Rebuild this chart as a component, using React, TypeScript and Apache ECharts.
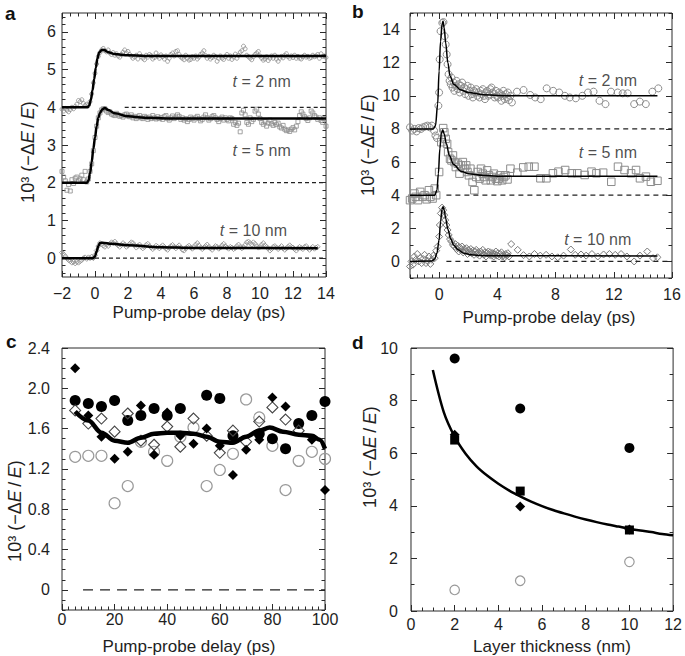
import { useEffect, useRef } from 'react';
import * as echarts from 'echarts';

const FONT = 'Liberation Sans, Arial, Helvetica, sans-serif';
const INK = '#1e1e1e';
const FRAME = '#2a2a2a';

// ---------------- Panel a (uniform sampling from -2 ps, step 0.1 ps) ----------------
const A_T0 = -2;
const A_DT = 0.1;
const A_2NM = [
  3.95, 3.9, 3.97, 3.92, 3.88, 3.94, 4.0, 3.96, 4.02, 4.08, 4.18, 4.15, 4.2, 4.1, 4.05, 4.08,
  4.05, 4.15, 4.35, 4.65, 4.9, 5.15, 5.35, 5.45, 5.52, 5.56,
  5.5, 5.47, 5.52, 5.44, 5.4, 5.45, 5.38, 5.42, 5.36, 5.33, 5.4, 5.46, 5.52, 5.44, 5.48,
  5.4, 5.36, 5.3, 5.34, 5.38, 5.28, 5.42, 5.35, 5.3, 5.26, 5.38, 5.33, 5.4, 5.37, 5.28, 5.32, 5.44, 5.35, 5.3, 5.39,
  5.34, 5.28, 5.36, 5.22, 5.3, 5.4, 5.44, 5.36, 5.48, 5.5, 5.4, 5.33, 5.3, 5.26, 5.38, 5.3, 5.25, 5.27, 5.34, 5.3,
  5.36, 5.28, 5.33, 5.4, 5.44, 5.5, 5.37, 5.3, 5.35, 5.28, 5.32, 5.38, 5.34, 5.22, 5.3, 5.36, 5.3, 5.27, 5.34, 5.4,
  5.3, 5.36, 5.27, 5.33, 5.41, 5.3, 5.38, 5.46, 5.5, 5.62, 5.55, 5.38, 5.34, 5.3, 5.26, 5.34, 5.4, 5.44, 5.48, 5.36,
  5.3, 5.25, 5.28, 5.34, 5.24, 5.3, 5.36, 5.3, 5.38, 5.28, 5.22, 5.3, 5.35, 5.31, 5.38, 5.42, 5.34, 5.3, 5.36, 5.32,
  5.38, 5.3, 5.35, 5.3, 5.28, 5.34, 5.38, 5.33, 5.35, 5.3, 5.32, 5.38, 5.34, 5.36, 5.4, 5.3, 5.42, 5.35, 5.36, 5.32,
];
const A_5NM = [
  2.3, 2.15, 2.05, 1.8, 1.95, 1.78, 2.08, 1.98, 2.12, 2.15, 2.05, 2.1, 2.2, 2.08, 2.3, 2.02,
  2.1, 2.3, 2.5, 2.85, 3.2, 3.5, 3.72, 3.85, 3.93, 3.96,
  3.96, 3.9, 3.86, 3.88, 3.82, 3.8, 3.78, 3.84, 3.8, 3.76, 3.78, 3.74, 3.8, 3.82, 3.77,
  3.75, 3.8, 3.72, 3.76, 3.7, 3.74, 3.78, 3.72, 3.7, 3.76, 3.73, 3.68, 3.74, 3.7, 3.78, 3.72, 3.69, 3.75, 3.7, 3.73,
  3.68, 3.75, 3.78, 3.7, 3.66, 3.72, 3.77, 3.7, 3.74, 3.8, 3.76, 3.68, 3.72, 3.66, 3.7, 3.62, 3.68, 3.74, 3.7, 3.66,
  3.72, 3.76, 3.7, 3.64, 3.68, 3.74, 3.8, 3.72, 3.66, 3.7, 3.75, 3.78, 3.72, 3.68, 3.62, 3.7, 3.74, 3.66, 3.72, 3.68,
  3.64, 3.72, 3.7, 3.55, 3.6, 3.52, 3.58, 3.35, 3.85, 3.92, 3.8, 3.6, 3.55, 3.72, 3.62, 3.68, 3.9, 3.95, 3.82, 3.7,
  3.6, 3.55, 3.62, 3.5, 3.58, 3.66, 3.56, 3.52, 3.6, 3.54, 3.58, 3.48, 3.45, 3.52, 3.42, 3.38, 3.4, 3.36, 3.42, 3.46,
  3.4, 3.5, 3.62, 3.78, 3.88, 3.82, 3.75, 3.7, 3.65, 3.72, 3.9, 3.85, 3.78, 3.74, 3.68, 3.72, 3.65, 3.6, 3.7, 3.5,
];
const A_10NM = [
  0.15, 0.1, 0.05, 0.0, -0.05, -0.08, -0.12, -0.1, -0.14, -0.1, -0.12, -0.08, -0.05, 0.0, 0.02, -0.02,
  0.02, 0.0, 0.04, 0.0, 0.08, 0.2, 0.32, 0.4, 0.38, 0.33,
  0.3, 0.36, 0.32, 0.38, 0.42, 0.4, 0.44, 0.38, 0.34, 0.3, 0.35, 0.4, 0.36, 0.3, 0.33,
  0.38, 0.42, 0.4, 0.34, 0.28, 0.32, 0.36, 0.3, 0.26, 0.3, 0.35, 0.38, 0.32, 0.28, 0.24, 0.28, 0.33, 0.3, 0.26, 0.3,
  0.34, 0.3, 0.25, 0.22, 0.28, 0.32, 0.35, 0.3, 0.26, 0.3, 0.34, 0.28, 0.22, 0.2, 0.26, 0.3, 0.33, 0.28, 0.25, 0.3,
  0.36, 0.4, 0.34, 0.28, 0.24, 0.28, 0.32, 0.36, 0.3, 0.26, 0.22, 0.28, 0.32, 0.3, 0.25, 0.28, 0.34, 0.38, 0.32, 0.28,
  0.25, 0.3, 0.28, 0.24, 0.27, 0.32, 0.36, 0.3, 0.26, 0.3, 0.35, 0.42, 0.44, 0.4, 0.36, 0.42, 0.38, 0.32, 0.28, 0.3,
  0.36, 0.4, 0.34, 0.3, 0.26, 0.2, 0.24, 0.3, 0.32, 0.28, 0.24, 0.28, 0.32, 0.26, 0.22, 0.26, 0.3, 0.34, 0.3, 0.28,
  0.24, 0.2, 0.26, 0.3, 0.27, 0.24, 0.3, 0.32, 0.26, 0.22, 0.26, 0.3, 0.25, 0.28, 0.3,
];
const A_FIT_2NM = [
  [-2, 4], [-0.45, 4], [-0.35, 4.05], [-0.25, 4.2], [-0.15, 4.45], [-0.05, 4.75], [0.05, 5.05], [0.15, 5.3],
  [0.25, 5.45], [0.4, 5.52], [0.55, 5.52], [0.8, 5.46], [1.2, 5.41], [2, 5.38], [3, 5.36], [14, 5.36],
];
const A_FIT_5NM = [
  [-2, 2], [-0.5, 2], [-0.4, 2.05], [-0.3, 2.25], [-0.2, 2.55], [-0.1, 2.9], [0, 3.2], [0.1, 3.5], [0.2, 3.72],
  [0.3, 3.85], [0.45, 3.95], [0.6, 3.98], [0.8, 3.93], [1.2, 3.84], [2, 3.76], [3, 3.72], [5, 3.7], [14, 3.7],
];
const A_FIT_10NM = [
  [-2, 0], [-0.1, 0], [0, 0.05], [0.1, 0.18], [0.2, 0.32], [0.3, 0.4], [0.45, 0.41], [1, 0.38], [2, 0.34],
  [4, 0.29], [6, 0.27], [13.5, 0.26],
];
const A_BASELINES = [[0, 14, 0], [0, 14, 2], [1.8, 14, 4]];
const A_LABELS: [number, number, string][] = [[10.1, 4.68, '2 nm'], [10.1, 2.85, '5 nm'], [9.6, 0.72, '10 nm']];
const A_XTICKS = [-2, 0, 2, 4, 6, 8, 10, 12, 14];
const A_YTICKS = [0, 1, 2, 3, 4, 5, 6];

// ---------------- Panel b ----------------
const B_2NM = [
  [-2, 8.1], [-1.85, 7.9], [-1.7, 8.0], [-1.55, 7.85], [-1.4, 8.05], [-1.25, 8.0], [-1.1, 8.1], [-0.95, 8.15],
  [-0.8, 8.2], [-0.65, 8.1], [-0.5, 8.2], [-0.35, 7.9], [-0.25, 7.6], [-0.15, 7.45], [-0.05, 9.4], [0, 10.2],
  [0.04, 12.2], [0.1, 13.9], [0.22, 14.4], [0.3, 14.45], [0.38, 13.6], [0.45, 13.1], [0.52, 12.5], [0.58, 11.9],
  [0.65, 11.3], [0.72, 10.9],
  [0.8, 10.7], [0.85, 11.1], [0.92, 10.5], [1.0, 10.8], [1.05, 10.3], [1.12, 10.6], [1.2, 10.9], [1.28, 10.4],
  [1.35, 10.7], [1.42, 10.2], [1.5, 10.6], [1.58, 10.8], [1.65, 10.3], [1.72, 10.5], [1.8, 10.1], [1.88, 10.4],
  [1.95, 10.6], [2.02, 10.0], [2.1, 10.3], [2.18, 10.5], [2.25, 10.1], [2.32, 9.9], [2.4, 10.3], [2.48, 10.2],
  [2.55, 10.4], [2.62, 10.0], [2.7, 10.2], [2.78, 9.9], [2.85, 10.3], [2.92, 10.1], [3.0, 10.4], [3.08, 10.0],
  [3.15, 9.8], [3.22, 10.2], [3.3, 10.3], [3.38, 10.0], [3.45, 10.1], [3.52, 10.4], [3.6, 10.5], [3.68, 10.2],
  [3.75, 10.1], [3.82, 9.9], [3.9, 10.3], [3.98, 10.0], [4.05, 9.9], [4.12, 10.2], [4.2, 10.1], [4.28, 9.7],
  [4.35, 10.0], [4.42, 10.3], [4.5, 9.8], [4.58, 10.1], [4.65, 9.9], [4.72, 10.2], [4.8, 9.75], [4.9, 10.0], [5.0, 9.6],
  [5.35, 10.25], [5.8, 10.35], [6.26, 10.05], [6.6, 9.9], [6.98, 9.8], [7.39, 10.45], [7.84, 10.3], [8.25, 10.2],
  [8.64, 10.0], [8.98, 9.9], [9.39, 9.85], [9.84, 10.0], [10.23, 10.2], [10.61, 10.25], [11.02, 9.7], [11.43, 9.5],
  [11.81, 10.25], [12.27, 10.2], [12.61, 10.15], [12.95, 10.15], [13.4, 9.5], [13.79, 9.65], [14.2, 9.5],
  [14.65, 10.25], [15.06, 10.45],
];
const B_5NM = [
  [-2, 3.7], [-1.85, 3.8], [-1.7, 4.1], [-1.6, 3.9], [-1.45, 3.7], [-1.3, 4.2], [-1.15, 3.9], [-1.0, 4.0],
  [-0.85, 3.75], [-0.7, 4.3], [-0.6, 3.9], [-0.45, 3.8], [-0.3, 4.4], [-0.2, 4.0],
  [0, 5.4], [0.15, 7.2], [0.28, 8.05], [0.36, 7.8], [0.45, 7.4], [0.55, 7.1], [0.62, 6.6], [0.75, 6.2],
  [0.85, 6.1], [0.95, 6.4], [1.06, 6.0], [1.15, 5.7], [1.29, 5.9], [1.4, 5.3], [1.5, 5.8], [1.63, 6.0],
  [1.75, 5.6], [1.86, 5.8], [1.95, 5.4], [2.05, 5.2], [2.15, 5.6], [2.3, 4.8], [2.42, 4.3], [2.55, 5.1],
  [2.65, 5.4], [2.78, 5.0], [2.88, 5.6], [3.0, 5.3], [3.1, 5.1], [3.2, 4.9], [3.3, 5.5], [3.42, 5.2],
  [3.55, 4.9], [3.65, 5.1], [3.76, 5.3], [3.9, 5.0], [4.0, 4.85], [4.1, 5.0], [4.2, 5.2], [4.33, 4.9],
  [4.45, 5.1], [4.56, 5.2], [4.7, 4.95], [4.9, 5.6],
  [5.37, 5.36], [5.78, 5.68], [6.16, 5.72], [6.55, 5.72], [6.96, 5.02], [7.37, 5.02], [7.82, 5.32], [8.2, 5.42],
  [8.66, 5.52], [9.11, 5.32], [9.5, 5.32], [10.0, 5.22], [10.47, 5.42], [10.81, 5.32], [11.27, 5.36],
  [11.83, 4.81], [12.29, 5.72], [12.74, 5.52], [13.19, 5.32], [13.53, 5.52], [13.8, 5.02], [14.21, 5.12],
  [14.55, 4.81], [15.0, 4.87],
];
const B_10NM = [
  [-2, -0.3], [-1.9, 0.0], [-1.8, -0.2], [-1.7, 0.3], [-1.6, 0.1], [-1.5, 0.45], [-1.4, 0.0], [-1.3, 0.2],
  [-1.2, -0.1], [-1.1, 0.15], [-1.0, 0.4], [-0.9, -0.1], [-0.8, 0.05], [-0.7, 0.3], [-0.6, -0.15], [-0.5, 0.1],
  [-0.4, 0.35], [-0.3, 0.2], [-0.2, 0.65], [-0.1, 0.9],
  [0, 1.5], [0.05, 2.2], [0.12, 2.9], [0.2, 3.25], [0.28, 3.1], [0.35, 2.8], [0.42, 2.5], [0.5, 2.2],
  [0.58, 1.9], [0.66, 1.6], [0.75, 1.35], [0.85, 1.2], [0.95, 1.0],
  [1.05, 0.9], [1.12, 1.05], [1.2, 0.75], [1.28, 0.95], [1.35, 0.6], [1.42, 0.85], [1.5, 0.7], [1.58, 0.9],
  [1.65, 0.55], [1.72, 0.75], [1.8, 0.6], [1.88, 0.8], [1.95, 0.45], [2.02, 0.7], [2.1, 0.55], [2.18, 0.75],
  [2.25, 0.5], [2.32, 0.65], [2.4, 0.4], [2.48, 0.6], [2.55, 0.7], [2.62, 0.45], [2.7, 0.55], [2.78, 0.35],
  [2.85, 0.6], [2.92, 0.5], [3.0, 0.7], [3.08, 0.4], [3.15, 0.55], [3.22, 0.3], [3.3, 0.5], [3.38, 0.6],
  [3.45, 0.4], [3.52, 0.55], [3.6, 0.35], [3.68, 0.5], [3.75, 0.3], [3.82, 0.45], [3.9, 0.6], [3.98, 0.35],
  [4.05, 0.5], [4.12, 0.3], [4.2, 0.45], [4.28, 0.55], [4.35, 0.3], [4.42, 0.4], [4.5, 0.25], [4.58, 0.45],
  [4.65, 0.35], [4.72, 0.5], [4.8, 0.3], [4.95, 1.05],
  [5.4, 0.7], [5.8, 0.38], [6.2, 0.3], [6.55, 0.45], [6.95, 0.35], [7.35, 0.4], [7.75, 0.3], [8.15, 0.25],
  [8.55, 0.35], [9.05, 0.72], [9.35, 0.4], [9.75, 0.42], [10.1, 0.35], [10.5, 0.45], [10.9, 0.3], [11.3, 0.42],
  [11.7, 0.45], [12.1, 0.4], [12.5, 0.45], [12.9, 0.3], [13.4, 0.0], [13.8, 0.35], [14.3, 0.6], [14.7, 0.2], [15.0, 0.25],
];
const B_FIT_2NM = [
  [-2, 8], [-0.4, 8], [-0.25, 8.2], [-0.1, 9.5], [0, 11.5], [0.1, 13.3], [0.2, 14.3], [0.27, 14.5], [0.35, 14.1],
  [0.45, 13.2], [0.6, 12.0], [0.75, 11.2], [1.0, 10.7], [1.5, 10.35], [2, 10.2], [3, 10.07], [4, 10.02], [5, 10], [15, 10],
];
const B_FIT_5NM = [
  [-2, 4], [-0.3, 4], [-0.15, 4.3], [-0.05, 5.3], [0.05, 6.8], [0.15, 7.7], [0.25, 7.95], [0.35, 7.7], [0.5, 7.1],
  [0.7, 6.4], [1.0, 5.85], [1.5, 5.45], [2, 5.3], [3, 5.2], [4, 5.15], [15, 5.15],
];
const B_FIT_10NM = [
  [-2, 0], [-0.5, 0.02], [-0.3, 0.15], [-0.15, 0.5], [0, 1.3], [0.1, 2.4], [0.2, 3.15], [0.27, 3.3], [0.35, 3.1],
  [0.45, 2.6], [0.6, 1.95], [0.8, 1.35], [1.0, 1.0], [1.3, 0.7], [1.7, 0.5], [2.2, 0.4], [3, 0.35], [15, 0.33],
];
const B_BASELINES = [[0.5, 16, 0], [0.5, 16, 4], [0.9, 16, 8]];
const B_LABELS: [number, number, string][] = [[11.6, 10.95, '2 nm'], [11.6, 6.58, '5 nm'], [10.9, 1.35, '10 nm']];
const B_XTICKS = [0, 4, 8, 12, 16];
const B_YTICKS = [0, 2, 4, 6, 8, 10, 12, 14];

// ---------------- Panel c ----------------
const C_DELAY = [5, 10, 15, 20, 25, 30, 35, 40, 45, 50, 55, 60, 65, 70, 75, 80, 85, 90, 95, 100];
const C_FILLED_CIRCLE = [1.88, 1.85, 1.82, 1.88, 1.68, 1.73, 1.8, 1.73, 1.8, null, 1.93, 1.9, 1.53, null, 1.55, 1.5, 1.4, 1.65, 1.73, 1.87];
const C_OPEN_CIRCLE = [1.32, 1.33, 1.33, 0.86, 1.03, 1.47, 1.37, 1.28, 1.52, 1.61, 1.03, 1.19, 1.35, 1.89, 1.71, 1.43, 0.99, 1.28, 1.37, 1.3];
const C_FILLED_DIAMOND = [2.2, 1.73, 1.52, 1.3, 1.37, 1.83, 1.34, 1.76, 1.53, 1.45, 1.6, 1.43, 1.14, 1.39, 1.49, 1.91, 1.82, null, 1.49, 0.99];
const C_OPEN_DIAMOND = [1.78, 1.65, 1.7, 1.57, 1.75, 1.48, 1.44, 1.62, 1.42, 1.7, 1.53, 1.36, 1.58, 1.47, 1.67, 1.81, 1.69, 1.58, null, null];
const C_FIT = [
  [5, 1.77], [10, 1.68], [15, 1.56], [20, 1.48], [25, 1.46], [30, 1.51], [35, 1.55], [40, 1.56], [45, 1.56],
  [50, 1.55], [55, 1.52], [60, 1.47], [65, 1.46], [70, 1.52], [75, 1.58], [79, 1.61], [84, 1.57], [90, 1.54],
  [95, 1.53], [98, 1.49], [100, 1.4],
];
const C_BASELINE = [[8, 100, 0]];
const C_XTICKS = [0, 20, 40, 60, 80, 100];
const C_YTICKS = [0, 0.4, 0.8, 1.2, 1.6, 2.0, 2.4];

// ---------------- Panel d ----------------
const D_THICKNESS = [2, 5, 10];
const D_FILLED_CIRCLE = [9.6, 7.7, 6.2];
const D_OPEN_CIRCLE = [0.8, 1.15, 1.87];
const D_SQUARE = [6.5, 4.56, 3.08];
const D_DIAMOND = [6.7, 3.97, 3.1];
const D_FIT = [
  [1, 9.16], [1.5, 7.56], [2, 6.62], [2.5, 5.98], [3, 5.5], [3.5, 5.14], [4, 4.84], [4.5, 4.58], [5, 4.36],
  [5.5, 4.16], [6, 3.99], [6.5, 3.84], [7, 3.71], [7.5, 3.59], [8, 3.48], [8.5, 3.38], [9, 3.29], [9.5, 3.21],
  [10, 3.13], [10.5, 3.06], [11, 3.0], [11.5, 2.93], [12, 2.88],
];
const D_XTICKS = [0, 2, 4, 6, 8, 10, 12];
const D_YTICKS = [0, 2, 4, 6, 8, 10];

// ---------------- helpers ----------------
function steps(from: number, to: number, step: number) {
  const out: number[] = [];
  const n = Math.round((to - from) / step);
  for (let i = 0; i <= n; i++) out.push(Math.round((from + i * step) * 10000) / 10000);
  return out;
}
const minus = (v: number) => String(v).replace('-', '\u2212');

type PanelCfg = {
  grid: { left: number; top: number; width: number; height: number };
  x: [number, number]; xMajor: number[]; xMinor: number[];
  y: [number, number]; yMajor: number[]; yMinor: number[];
  mirrorTop: boolean; xMargin: number; yMargin: number;
  yFmt?: (v: number) => string;
};

const PANELS: PanelCfg[] = [
  { grid: { left: 62, top: 13, width: 264, height: 264 }, x: [-2, 14], xMajor: A_XTICKS, xMinor: steps(-2, 14, 0.5),
    y: [-0.5, 6.5], yMajor: A_YTICKS, yMinor: steps(-0.4, 6.4, 0.2), mirrorTop: true, xMargin: 8, yMargin: 6 },
  { grid: { left: 410, top: 13, width: 262, height: 265 }, x: [-2, 16], xMajor: B_XTICKS, xMinor: steps(-2, 16, 0.5),
    y: [-1, 15], yMajor: B_YTICKS, yMinor: steps(-1, 15, 1), mirrorTop: true, xMargin: 8, yMargin: 10 },
  { grid: { left: 62, top: 348, width: 263, height: 262 }, x: [0, 100], xMajor: C_XTICKS, xMinor: steps(0, 100, 2.5),
    y: [-0.2, 2.4], yMajor: C_YTICKS, yMinor: steps(-0.2, 2.4, 0.1), mirrorTop: false, xMargin: 1, yMargin: 12,
    yFmt: (v: number) => (v === 0 ? '0' : v.toFixed(1)) },
  { grid: { left: 411, top: 348, width: 263, height: 263 }, x: [0, 12], xMajor: D_XTICKS, xMinor: steps(0, 12, 0.5),
    y: [0, 10], yMajor: D_YTICKS, yMinor: steps(0, 10, 1), mirrorTop: false, xMargin: 5, yMargin: 13 },
];

const labelStyle = { fontSize: 16, color: INK, fontFamily: FONT };

function tickAxis(base: any, vals: number[], len: number, label: any) {
  return {
    ...base,
    type: 'value',
    axisLine: { show: false, onZero: false },
    splitLine: { show: false },
    minorTick: { show: false },
    axisTick: { show: true, inside: true, length: len, customValues: vals, lineStyle: { color: FRAME, width: 1 } },
    axisLabel: label ? { ...label, customValues: vals } : { show: false },
  };
}

function buildAxes() {
  const xAxis: any[] = [];
  const yAxis: any[] = [];
  const idx: { x: number; y: number }[] = [];
  PANELS.forEach((p, gi) => {
    const xb = { gridIndex: gi, min: p.x[0], max: p.x[1] };
    const yb = { gridIndex: gi, min: p.y[0], max: p.y[1] };
    idx.push({ x: xAxis.length, y: yAxis.length });
    xAxis.push(tickAxis({ ...xb, position: 'bottom' }, p.xMajor, 6,
      { show: true, margin: p.xMargin, formatter: (v: number) => minus(v), ...labelStyle }));
    xAxis.push(tickAxis({ ...xb, position: 'bottom' }, p.xMinor, 3.5, null));
    if (p.mirrorTop) {
      xAxis.push(tickAxis({ ...xb, position: 'top' }, p.xMajor, 6, null));
      xAxis.push(tickAxis({ ...xb, position: 'top' }, p.xMinor, 3.5, null));
    }
    yAxis.push(tickAxis({ ...yb, position: 'left' }, p.yMajor, 6,
      { show: true, margin: p.yMargin, formatter: p.yFmt || ((v: number) => minus(v)), ...labelStyle }));
    yAxis.push(tickAxis({ ...yb, position: 'left' }, p.yMinor, 3.5, null));
    yAxis.push(tickAxis({ ...yb, position: 'right' }, p.yMajor, 6, null));
    yAxis.push(tickAxis({ ...yb, position: 'right' }, p.yMinor, 3.5, null));
  });
  return { xAxis, yAxis, idx };
}

const pairs = (xs: number[], ys: (number | null)[]) =>
  xs.map((x, i) => [x, ys[i]]).filter((d) => d[1] !== null && d[1] !== undefined);
const sampled = (t0: number, dt: number, ys: number[]) => ys.map((y, i) => [Math.round((t0 + i * dt) * 100) / 100, y]);

export default function App() {
  const ref = useRef<HTMLDivElement>(null);
  useEffect(() => {
    if (!ref.current) return;
    const chart = echarts.init(ref.current, undefined, { renderer: 'svg' });
    const { xAxis, yAxis, idx } = buildAxes();
    const on = (p: number) => ({ xAxisIndex: idx[p].x, yAxisIndex: idx[p].y });

    const hollow = (p: number, data: any[], symbol: string, size: number, stroke: string, bw: number) => ({
      type: 'scatter', ...on(p), data, symbol, symbolSize: size, silent: true, z: 2,
      itemStyle: { color: 'rgba(255,255,255,0)', borderColor: stroke, borderWidth: bw, opacity: 1 },
    });
    const filled = (p: number, data: any[], symbol: string, size: number) => ({
      type: 'scatter', ...on(p), data, symbol, symbolSize: size, silent: true, z: 2,
      itemStyle: { color: '#000', borderColor: '#000', borderWidth: 0, opacity: 1 },
    });
    const fit = (p: number, data: any[], width: number, smooth = 0.35, mono = true) => ({
      type: 'line', ...on(p), data, symbol: 'none', smooth, smoothMonotone: mono ? 'x' : undefined, silent: true, z: 4,
      lineStyle: { color: '#000', width },
    });
    const dashed = (p: number, lines: number[][], dash: number[], width: number) =>
      lines.map(([x0, x1, lv]) => ({
        type: 'line', ...on(p), data: [[x0, lv], [x1, lv]], symbol: 'none', silent: true, z: 3,
        lineStyle: { color: '#222', width, type: dash },
      }));
    const notes = (p: number, items: [number, number, string][]) => ({
      type: 'scatter', ...on(p), silent: true, z: 5, symbolSize: 1,
      itemStyle: { color: 'rgba(0,0,0,0)' },
      data: items.map(([x, y, t]) => ({ value: [x, y], name: t })),
      label: {
        show: true, position: 'inside', fontSize: 16, color: INK, fontFamily: FONT,
        formatter: (q: any) => '{i|t} = ' + q.name,
        rich: { i: { fontStyle: 'italic', fontSize: 16, color: INK, fontFamily: FONT } },
      },
    });

    const series: any[] = [
      // a
      hollow(0, sampled(A_T0, A_DT, A_2NM), 'circle', 4, '#8c8c8c', 0.8),
      hollow(0, sampled(A_T0, A_DT, A_5NM), 'rect', 4, '#8c8c8c', 0.8),
      hollow(0, sampled(A_T0, A_DT, A_10NM), 'diamond', 5, '#8c8c8c', 0.8),
      ...dashed(0, A_BASELINES, [4, 3], 1.2),
      fit(0, A_FIT_2NM, 2.5), fit(0, A_FIT_5NM, 2.5), fit(0, A_FIT_10NM, 2.5),
      notes(0, A_LABELS),
      // b
      hollow(1, B_2NM, 'circle', 7, '#8c8c8c', 1),
      hollow(1, B_5NM, 'rect', 7.5, '#8c8c8c', 1),
      hollow(1, B_10NM, 'diamond', 7, '#7a7a7a', 1),
      ...dashed(1, B_BASELINES, [5, 4], 1.2),
      fit(1, B_FIT_2NM, 1.5), fit(1, B_FIT_5NM, 1.5), fit(1, B_FIT_10NM, 1.5),
      notes(1, B_LABELS),
      // c
      hollow(2, pairs(C_DELAY, C_OPEN_CIRCLE), 'circle', 11, '#9a9a9a', 1.2),
      filled(2, pairs(C_DELAY, C_FILLED_CIRCLE), 'circle', 11),
      hollow(2, pairs(C_DELAY, C_OPEN_DIAMOND), 'diamond', 11, '#444', 1.1),
      filled(2, pairs(C_DELAY, C_FILLED_DIAMOND), 'diamond', 10),
      ...dashed(2, C_BASELINE, [10, 7], 1.1),
      fit(2, C_FIT, 4.5),
      // d
      filled(3, pairs(D_THICKNESS, D_FILLED_CIRCLE), 'circle', 10),
      hollow(3, pairs(D_THICKNESS, D_OPEN_CIRCLE), 'circle', 9.5, '#9a9a9a', 1.2),
      filled(3, pairs(D_THICKNESS, D_SQUARE), 'rect', 9),
      filled(3, pairs(D_THICKNESS, D_DIAMOND), 'diamond', 10),
      fit(3, D_FIT, 2.5, 0.3, false),
    ];

    const yTitle = {
      text: '10\u00B3 (\u2212\u0394{i|E}\u2009/\u2009{i|E})',
      fontSize: 18, fontFamily: FONT, fill: INK, align: 'center', verticalAlign: 'middle',
      rich: { i: { fontStyle: 'italic', fontSize: 18, fontFamily: FONT, fill: INK } },
    };
    const xTitle = (text: string) => ({ text, fontSize: 17, fontFamily: FONT, fill: INK, align: 'center', verticalAlign: 'middle' });
    const letter = (text: string) => ({ text, fontSize: 19, fontWeight: 'bold', fontFamily: FONT, fill: '#111', align: 'left', verticalAlign: 'middle' });

    const graphic = [
      { type: 'text', x: 5, y: 13, style: letter('a') },
      { type: 'text', x: 352, y: 11, style: letter('b') },
      { type: 'text', x: 6, y: 341, style: letter('c') },
      { type: 'text', x: 352, y: 342, style: letter('d') },
      { type: 'text', x: 199, y: 312, style: xTitle('Pump-probe delay (ps)') },
      { type: 'text', x: 549, y: 317, style: xTitle('Pump-probe delay (ps)') },
      { type: 'text', x: 189, y: 646, style: xTitle('Pump-probe delay (ps)') },
      { type: 'text', x: 552, y: 646, style: xTitle('Layer thickness (nm)') },
      { type: 'text', x: 28, y: 152, rotation: Math.PI / 2, style: yTitle },
      { type: 'text', x: 368, y: 145, rotation: Math.PI / 2, style: yTitle },
      { type: 'text', x: 15, y: 511, rotation: Math.PI / 2, style: yTitle },
      { type: 'text', x: 370, y: 457, rotation: Math.PI / 2, style: yTitle },
    ];

    chart.setOption({
      animation: false,
      backgroundColor: '#fff',
      grid: PANELS.map((p) => ({ ...p.grid, show: true, borderColor: FRAME, borderWidth: 1, backgroundColor: 'rgba(0,0,0,0)', containLabel: false })),
      xAxis,
      yAxis,
      series,
      graphic,
    });
    return () => chart.dispose();
  }, []);
  return <div ref={ref} style={{ position: 'fixed', left: 0, top: 0, width: 685, height: 656 }} />;
}
